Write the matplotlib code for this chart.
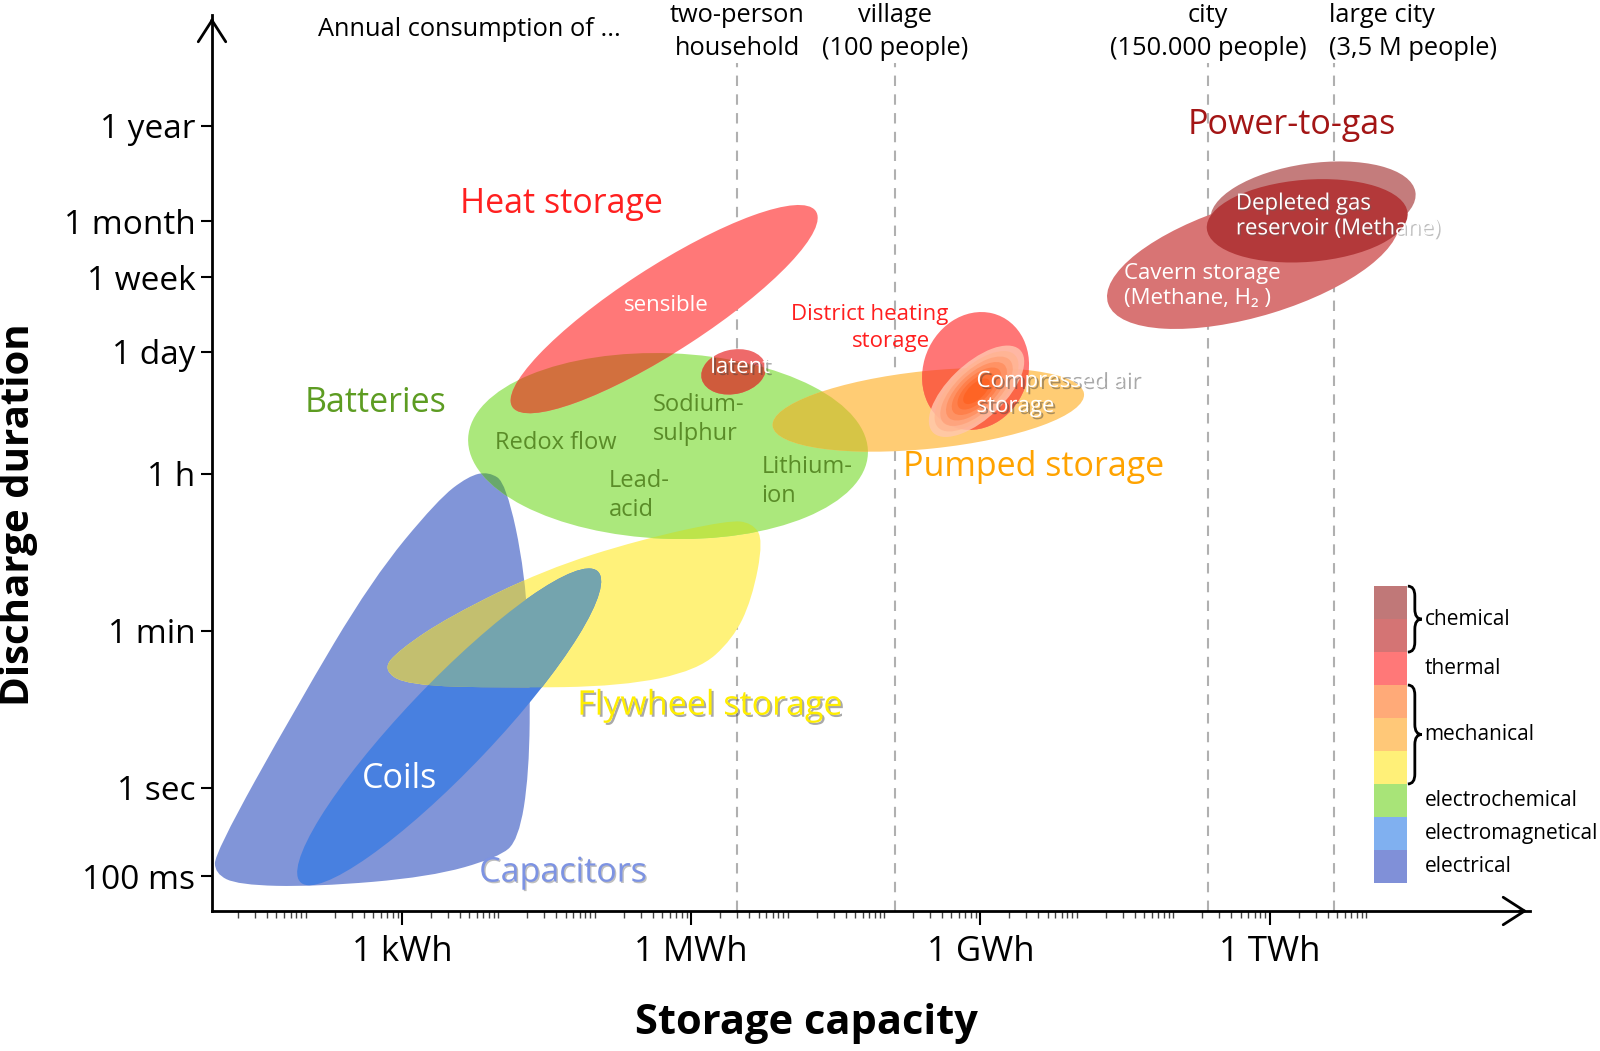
import matplotlib.pyplot as plt
import matplotlib.patheffects as pe
from matplotlib.patches import Ellipse, PathPatch
from matplotlib.path import Path
from matplotlib.ticker import FixedLocator, NullFormatter

plt.rcParams['font.family'] = ['Open Sans', 'DejaVu Sans']

# axis ticks
duration_ticks = [0.1, 1, 60, 3600, 86400, 604800, 2592000, 31557600]
duration_labels = ['100 ms', '1 sec', '1 min', '1 h', '1 day', '1 week', '1 month', '1 year']
capacity_ticks = [1e3, 1e6, 1e9, 1e12]
capacity_labels = ['1 kWh', '1 MWh', '1 GWh', '1 TWh']

# annual consumption reference lines (Wh)
ref_names = ['two-person\nhousehold', 'village\n(100 people)', 'city\n(150.000 people)',
             'large city\n(3,5 M people)']
ref_wh = [3e6, 1.3e8, 2.3e11, 4.7e12]

# technologies drawn as ellipses: centre in log10(Wh) / log10(s), size in decades, tilt in deg
ell_names = ['coils', 'batteries', 'sensible', 'latent', 'pumped', 'district',
             'cavern', 'p2g', 'depleted']
ell_x = [3.49, 5.76, 5.72, 6.44, 8.46, 8.95, 11.83, 12.45, 12.39]
ell_y = [0.69, 3.87, 5.42, 4.71, 4.28, 4.72, 5.98, 6.58, 6.42]
ell_w = [4.68, 4.15, 3.85, 0.68, 3.25, 1.09, 3.17, 2.15, 2.09]
ell_h = [0.95, 2.10, 0.94, 0.50, 0.88, 1.35, 1.27, 0.98, 0.93]
ell_angle = [49, -2.5, 35.4, 15, 6.5, -15, 18.5, 9, 5]
ell_colors = ['#4880e0', '#abe87c', '#ff7878', '#ee6a6a', '#ffcc74', '#ff7676',
              '#d87474', '#c47c7c', '#b3393a']

# technologies drawn as free shapes: outline in log10(Wh) / log10(s)
cap_x = [3.90, 4.08, 4.28, 4.33, 4.32, 4.21, 4.00, 3.29, 2.10, 1.30, 1.06, 1.06, 1.90, 2.69, 3.37, 3.69]
cap_y = [3.58, 3.45, 2.43, 1.30, 0.16, -0.59, -0.79, -1.01, -1.12, -1.10, -0.97, -0.74, 0.91, 2.36, 3.26, 3.53]
fly_x = [2.80, 3.05, 4.08, 5.28, 6.07, 6.43, 6.63, 6.75, 6.63, 6.39, 5.47, 4.48, 3.49, 2.97]
fly_y = [1.34, 1.16, 1.13, 1.15, 1.33, 1.68, 2.13, 2.81, 3.00, 3.03, 2.81, 2.47, 1.94, 1.56]
blobs = {'capacitors': (cap_x, cap_y, '#8195d8'), 'flywheel': (fly_x, fly_y, '#fff27a')}

# colours where two technologies overlap: (shape, clipped by, colour)
overlaps = [('capacitors', 'batteries', '#69a86b'), ('flywheel', 'batteries', '#bde44a'),
            ('flywheel', 'capacitors', '#c3bf6f'), ('coils', 'flywheel', '#74a4ae'),
            ('sensible', 'batteries', '#d2703e'), ('latent', 'batteries', '#cf5b3c'),
            ('pumped', 'batteries', '#d6c546'), ('district', 'pumped', '#fb6546')]

# compressed air storage (gradient ellipse)
caes_x, caes_y, caes_w, caes_h, caes_angle = 8.96, 4.49, 1.30, 0.60, 47
caes_scales = [1.0, 0.88, 0.76, 0.64, 0.52, 0.40, 0.28]
caes_colors = ['#ffc8b0', '#ffb490', '#ffa078', '#ff8c5c', '#ff7a44', '#ff6c30', '#ff6020']

# legend
leg_colors = ['#8090d8', '#80b0f0', '#a8e478', '#fff078', '#ffc878', '#ffaa78',
              '#ff7878', '#d47474', '#c07878']
leg_labels = ['electrical', 'electromagnetical', 'electrochemical', 'mechanical',
              'thermal', 'chemical']
leg_label_y = [0.5, 1.5, 2.5, 4.5, 6.5, 8.0]


def smooth_path(xs, ys):
    # closed quadratic spline through the mid points of the outline (log space)
    n = len(xs)
    mids = [((xs[i] + xs[(i + 1) % n]) / 2, (ys[i] + ys[(i + 1) % n]) / 2) for i in range(n)]
    verts = [mids[-1]]
    codes = [Path.MOVETO]
    for i in range(n):
        verts += [(xs[i], ys[i]), mids[i]]
        codes += [Path.CURVE3, Path.CURVE3]
    verts = [(10 ** x, 10 ** y) for x, y in verts]
    return Path(verts, codes)


fig = plt.figure(figsize=(16, 10.51), dpi=100)
ax = fig.add_axes([0.1325, 0.1332, 0.8237, 0.8525])
ax.set_xscale('log')
ax.set_yscale('log')
ax.set_xlim(10 ** 1.03, 10 ** 14.70)
ax.set_ylim(10 ** -1.395, 10 ** 8.75)
ax.set_autoscale_on(False)
log_space = ax.transLimits + ax.transAxes


def shape_patch(name, color, **kw):
    if name in blobs:
        xs, ys, _ = blobs[name]
        p = PathPatch(smooth_path(xs, ys), facecolor=color, edgecolor='none', **kw)
    else:
        i = ell_names.index(name)
        p = Ellipse((ell_x[i], ell_y[i]), ell_w[i], ell_h[i], angle=ell_angle[i],
                    transform=log_space, facecolor=color, edgecolor='none', **kw)
    ax.add_patch(p)
    return p


patches = {}
for name in ['capacitors', 'flywheel']:
    patches[name] = shape_patch(name, blobs[name][2], zorder=2)
for name, c in zip(ell_names, ell_colors):
    patches[name] = shape_patch(name, c, zorder=2)

for a, b, c in overlaps:
    p = shape_patch(a, c, zorder=3)
    p.set_clip_path(patches[b])

for s, c in zip(caes_scales, caes_colors):
    ax.add_patch(Ellipse((caes_x, caes_y), caes_w * s, caes_h * s, angle=caes_angle,
                         transform=log_space, facecolor=c, edgecolor='none',
                         alpha=0.8 if s == 1.0 else 0.75, zorder=4))

# reference lines
top_y = 0.981
for x in ref_wh:
    ax.axvline(x, ymax=0.946, color='#b0b0b0', lw=1.5, ls=(0, (5, 4)), zorder=1)
for x, t in zip(ref_wh, ref_names):
    if t.startswith('large'):
        ax.annotate(t, (x, top_y), xycoords=ax.get_xaxis_transform(), xytext=(-4, 0),
                    textcoords='offset points', ha='left', va='center', fontsize=18.3,
                    linespacing=1.42, annotation_clip=False)
    else:
        ax.text(x, top_y, t, transform=ax.get_xaxis_transform(), ha='center', va='center',
                fontsize=18.3, linespacing=1.42)
ax.text(10 ** 3.70, 0.984, 'Annual consumption of ...', transform=ax.get_xaxis_transform(),
        ha='center', va='center', fontsize=18.3)

# axes styling
for side in ['top', 'right']:
    ax.spines[side].set_visible(False)
for side in ['left', 'bottom']:
    ax.spines[side].set_linewidth(2)
ax.annotate('', xy=(1.0, 0), xytext=(0.99, 0), xycoords='axes fraction',
            arrowprops=dict(arrowstyle='->,head_length=0.7,head_width=0.45', lw=2, color='black',
                            mutation_scale=22))
ax.annotate('', xy=(0, 1.0), xytext=(0, 0.99), xycoords='axes fraction',
            arrowprops=dict(arrowstyle='->,head_length=0.7,head_width=0.45', lw=2, color='black',
                            mutation_scale=22))

ax.yaxis.set_major_locator(FixedLocator(duration_ticks))
ax.set_yticklabels(duration_labels)
ax.yaxis.set_minor_locator(FixedLocator([]))
ax.tick_params(axis='y', which='major', length=8, width=1.5, labelsize=24, pad=4)

decades = [10.0 ** k for k in range(1, 14)]
minors = [m * 10.0 ** k for k in range(1, 13) for m in range(2, 10)]
ax.xaxis.set_major_locator(FixedLocator(capacity_ticks))
ax.set_xticklabels(capacity_labels)
ax.xaxis.set_minor_locator(FixedLocator(decades + minors))
ax.xaxis.set_minor_formatter(NullFormatter())
ax.tick_params(axis='x', which='major', length=10, width=1.5, labelsize=25, pad=7)
ax.tick_params(axis='x', which='minor', length=5, width=1, color='#444444')

fig.text(0.504, 0.026, 'Storage capacity', ha='center', va='center', fontsize=30,
         fontweight='bold')
fig.text(0.0115, 0.51, 'Discharge duration', ha='center', va='center', fontsize=29,
         fontweight='bold', rotation=90)

# labels
shadow = [pe.withSimplePatchShadow(offset=(1.5, -1.5), shadow_rgbFace='#404040', alpha=0.45)]
light_shadow = [pe.withSimplePatchShadow(offset=(1, -1), shadow_rgbFace='#606060', alpha=0.4)]
big = dict(fontsize=24.5, ha='center', va='center', zorder=6)
small = dict(fontsize=16, zorder=6)

ax.text(10 ** 4.65, 10 ** 6.61, 'Heat storage', color='#ff2020', **big)
ax.text(10 ** 2.73, 10 ** 4.36, 'Batteries', color='#5d9c22', **big)
ax.text(10 ** 12.23, 10 ** 7.50, 'Power-to-gas', color='#a31515', **big)
ax.text(10 ** 9.55, 10 ** 3.63, 'Pumped storage', color='#ffa300', **big)
ax.text(10 ** 6.19, 10 ** 0.93, 'Flywheel storage', color='#ffee00', path_effects=shadow, **big)
ax.text(10 ** 2.98, 10 ** 0.10, 'Coils', color='white', **big)
ax.text(10 ** 4.67, 10 ** -0.96, 'Capacitors', color='#7d93e3', path_effects=light_shadow, **big)

ax.text(10 ** 5.74, 10 ** 5.46, 'sensible', color='white', ha='center', va='center', **small)
ax.text(10 ** 6.51, 10 ** 4.76, 'latent', color='white', ha='center', va='center',
        path_effects=shadow, **small)
bat_col = '#5a8c28'
ax.text(10 ** 4.60, 10 ** 3.90, 'Redox flow', color=bat_col, ha='center', va='center',
        fontsize=17, zorder=6)
ax.text(10 ** 5.60, 10 ** 4.17, 'Sodium-\nsulphur', color=bat_col, ha='left', va='center',
        fontsize=17, linespacing=1.25, zorder=6)
ax.text(10 ** 5.15, 10 ** 3.31, 'Lead-\nacid', color=bat_col, ha='left', va='center',
        fontsize=17, linespacing=1.25, zorder=6)
ax.text(10 ** 6.73, 10 ** 3.47, 'Lithium-\nion', color=bat_col, ha='left', va='center',
        fontsize=17, linespacing=1.25, zorder=6)
ax.text(10 ** 7.85, 10 ** 5.36, 'District heating', color='#ff1e1e', ha='center', va='center',
        **small)
ax.text(10 ** 8.07, 10 ** 5.05, 'storage', color='#ff1e1e', ha='center', va='center', **small)
ax.text(10 ** 8.96, 10 ** 4.46, 'Compressed air\nstorage', color='white', ha='left',
        va='center', linespacing=1.25, path_effects=shadow, **small)
ax.text(10 ** 11.65, 10 ** 6.47, 'Depleted gas\nreservoir (Methane)', color='white', ha='left',
        va='center', linespacing=1.25, path_effects=light_shadow, **small)
ax.text(10 ** 10.49, 10 ** 5.68, 'Cavern storage\n(Methane, H\u2082 )', color='white', ha='left',
        va='center', linespacing=1.25, **small)

# legend bar with braces
axl = fig.add_axes([0.859, 0.160, 0.0203, 0.2823])
axl.bar([0] * len(leg_colors), [1] * len(leg_colors), bottom=range(len(leg_colors)),
        width=1, color=leg_colors)
axl.set_xlim(-0.5, 0.5)
axl.set_ylim(0, len(leg_colors))
axl.axis('off')
for t, y in zip(leg_labels, leg_label_y):
    axl.text(1.05, y, t, ha='left', va='center', fontsize=15)


def brace(y0, y1, x0=0.53, w=0.43, d=0.3):
    ym = (y0 + y1) / 2
    xm = x0 + w / 2
    verts = [(x0, y1), (xm, y1), (xm, y1 - d), (xm, ym + d), (xm, ym), (x0 + w, ym),
             (xm, ym), (xm, ym - d), (xm, y0 + d), (xm, y0), (x0, y0)]
    codes = [Path.MOVETO, Path.CURVE3, Path.CURVE3, Path.LINETO, Path.CURVE3, Path.CURVE3,
             Path.CURVE3, Path.CURVE3, Path.LINETO, Path.CURVE3, Path.CURVE3]
    axl.add_patch(PathPatch(Path(verts, codes), fill=False, lw=2, edgecolor='black',
                            clip_on=False))


brace(7, 9)
brace(3, 6)

fig.savefig('out.png', dpi=100)
